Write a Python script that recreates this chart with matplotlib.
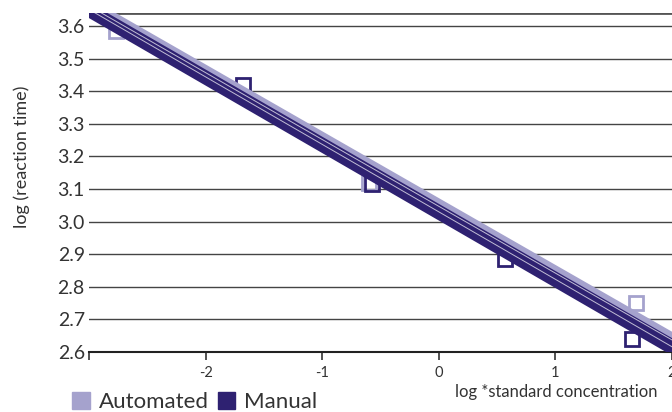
import numpy as np
import matplotlib
matplotlib.use("Agg")
import matplotlib.pyplot as plt
from matplotlib.patches import Patch

plt.rcParams['font.family'] = ['Lato', 'DejaVu Sans']

light = '#a5a2cd'
dark = '#2e2171'

# points
auto_x = [-2.77, -0.60, 1.69]
auto_y = [3.585, 3.12, 2.75]
manual_x = [-1.68, -0.57, 0.57, 1.66]
manual_y = [3.42, 3.115, 2.885, 2.64]

# fitted lines (intercept, slope)
auto_icpt = [3.040, 3.050, 3.060]
auto_slope = [-0.203, -0.204, -0.205]
manual_icpt = [3.012, 3.019, 3.026, 3.033, 3.040, 3.046]
manual_slope = [-0.207, -0.208, -0.208, -0.207, -0.206, -0.206]
white_icpt = [3.030, 3.047]
white_slope = [-0.207, -0.205]

yticks = [2.6, 2.7, 2.8, 2.9, 3.0, 3.1, 3.2, 3.3, 3.4, 3.5, 3.6]
xticks = [-3, -2, -1, 0, 1, 2]
xticklabels = ['', '-2', '-1', '0', '1', '2']

fig = plt.figure(figsize=(6.72, 4.12), dpi=100)
ax = fig.add_axes([89/672, 60/412, 1 - 89/672, 339/412])

xs = np.array([-3.2, 2.2])
for b, m in zip(auto_icpt, auto_slope):
    ax.plot(xs, b + m*xs, color=light, lw=5, solid_capstyle='butt', zorder=3)
for b, m in zip(manual_icpt, manual_slope):
    ax.plot(xs, b + m*xs, color=dark, lw=3.5, solid_capstyle='butt', zorder=4)
for b, m in zip(white_icpt, white_slope):
    ax.plot(xs, b + m*xs, color='white', lw=0.7, alpha=0.7, zorder=5)

ax.plot(auto_x, auto_y, 's', mfc='none', mec=light, ms=9.5, mew=2, zorder=2)
ax.plot(manual_x, manual_y, 's', mfc='none', mec=dark, ms=9.5, mew=2, zorder=2)

ax.set_xlim(-3, 2)
ax.set_ylim(2.6, 3.64)
for y in yticks[1:]:
    ax.axhline(y, color='#444444', lw=1, zorder=1)
ax.axhline(3.64, color='#555555', lw=2, zorder=1)

for s in ['left', 'right', 'top']:
    ax.spines[s].set_visible(False)
ax.spines['bottom'].set_color('#222222')
ax.spines['bottom'].set_linewidth(1.5)

ax.set_yticks(yticks)
ax.set_yticklabels([f'{v:.1f}' for v in yticks], fontsize=14, color='#333333')
ax.tick_params(axis='y', length=0, pad=3)
ax.set_xticks(xticks)
ax.set_xticklabels(xticklabels, fontsize=10.5, color='#333333')
ax.tick_params(axis='x', length=6, width=1.2, color='#333333', pad=4)

fig.text(0.032, 0.62, 'log (reaction time)', rotation=90, ha='center', va='center',
         fontsize=13, color='#333333')
fig.text(556/672, 20/412, 'log *standard concentration', ha='center', va='center',
         fontsize=12, color='#333333')

handles = [Patch(color=light, label='Automated'), Patch(color=dark, label='Manual')]
fig.legend(handles=handles, loc='lower left', bbox_to_anchor=(52/672, -20/412), ncol=2,
           frameon=False, fontsize=16, handlelength=0.8, handleheight=0.8,
           handletextpad=0.4, columnspacing=0.4, labelcolor='#333333')

fig.savefig('out.png', dpi=100)
